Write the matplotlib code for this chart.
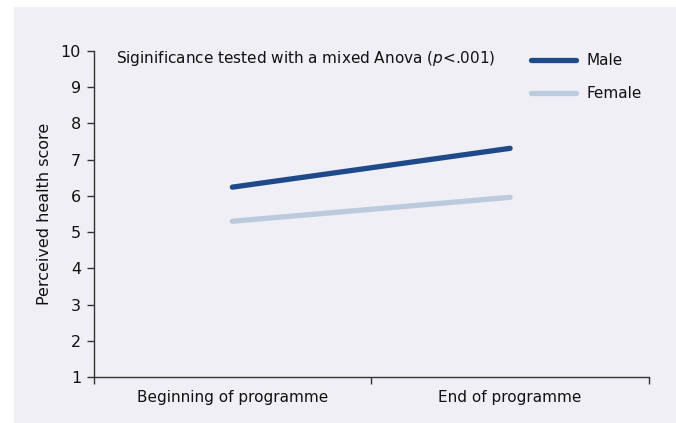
import matplotlib
matplotlib.use("Agg")
import matplotlib.pyplot as plt
from matplotlib.patches import Rectangle
from matplotlib.lines import Line2D

categories = ["Beginning of programme", "End of programme"]
male = [6.24, 7.31]
female = [5.30, 5.96]
series_names = ["Male", "Female"]
yticks = [1, 2, 3, 4, 5, 6, 7, 8, 9, 10]
note = "Siginificance tested with a mixed Anova ($\\it{p}$<.001)"

male_color = "#1f4a8a"
female_color = "#bccadd"
bg = "#efeff5"
axis_color = "#333333"

plt.rcParams['font.family'] = ['DejaVu Sans']
plt.rcParams['mathtext.fontset'] = 'dejavusans'

fig = plt.figure(figsize=(6.76, 4.23), dpi=100)
fig.patch.set_facecolor("white")
fig.patches.append(Rectangle((14/676, 0), 1 - 14/676, 1 - 7/423,
                             transform=fig.transFigure, facecolor=bg,
                             edgecolor="none", zorder=-10))

ax = fig.add_axes([93.5/676, 1 - 377.3/423, (649 - 93.5)/676, (377.3 - 50.7)/423])
ax.set_facecolor("none")
ax.set_zorder(1)

x = list(range(len(categories)))
ax.plot(x, male, color=male_color, lw=3.8, solid_capstyle="round")
ax.plot(x, female, color=female_color, lw=3.8, solid_capstyle="round")

ax.set_xlim(-0.5, len(categories) - 0.5)
ax.set_ylim(1, 10)
ax.set_yticks(yticks)
ax.set_xticks(x)
ax.set_xticklabels(categories, fontsize=11)
ax.set_xticks([-0.5, 0.5, 1.5], minor=True)
ax.tick_params(axis="x", which="major", length=0, pad=9, colors="#111111")
ax.tick_params(axis="x", which="minor", length=5, width=1, color=axis_color, direction="out")
ax.tick_params(axis="y", length=5, width=1, color=axis_color, labelsize=11.5, pad=4, labelcolor="#111111")

for s in ["top", "right"]:
    ax.spines[s].set_visible(False)
for s in ["left", "bottom"]:
    ax.spines[s].set_color(axis_color)
    ax.spines[s].set_linewidth(1)

ax.set_ylabel("Perceived health score", fontsize=11.5, labelpad=6, color="#111111")

fig.text(116/676, 1 - 58/423, note, fontsize=11, va="center", ha="left", color="#111111")

# legend entries drawn in figure coordinates
leg_y = [60.4, 93.2]
colors = [male_color, female_color]
for name, yy, c in zip(series_names, leg_y, colors):
    fig.lines.append(Line2D([531/676, 576/676], [1 - yy/423, 1 - yy/423],
                            transform=fig.transFigure, color=c, lw=3.8,
                            solid_capstyle="round"))
    fig.text(587/676, 1 - yy/423, name, fontsize=11, va="center", ha="left", color="#111111")

fig.savefig("out.png", dpi=100)
